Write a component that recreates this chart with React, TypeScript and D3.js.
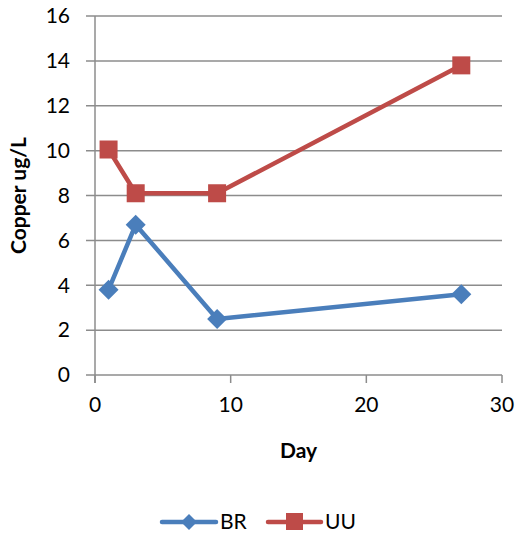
import React from "react";
import * as d3 from "d3";

const days = [1, 3, 9, 27];
const brValues = [3.8, 6.7, 2.5, 3.6];
const uuValues = [10.05, 8.1, 8.1, 13.8];
const yTicks = [0, 2, 4, 6, 8, 10, 12, 14, 16];
const xTicks = [0, 10, 20, 30];

const W = 518, H = 541;
const left = 95, right = 502, top = 16, bottom = 375;
const FONT = "Lato, 'Open Sans', sans-serif";
const BLUE = "#4A7EBB";
const RED = "#BE4B48";
const GRID = "#8C8C8C";
const FS = 21;

export default function App() {
  const x = d3.scaleLinear().domain([0, 30]).range([left, right]);
  const y = d3.scaleLinear().domain([0, 16]).range([bottom, top]);
  const line = d3.line<number>().x((_, i) => x(days[i])).y((d) => y(d));
  const diamond = (cx: number, cy: number, r: number) =>
    `M${cx},${cy - r}L${cx + r},${cy}L${cx},${cy + r}L${cx - r},${cy}Z`;

  return (
    <svg width={W} height={H} style={{ position: "absolute", left: 0, top: 0, background: "#fff" }}>
      {yTicks.map((t) => (
        <g key={"y" + t}>
          <line x1={86} x2={right} y1={y(t)} y2={y(t)} stroke={GRID} strokeWidth={1.5} />
          <text x={70} y={y(t)} dy="0.35em" textAnchor="end" fontSize={FS} fontFamily={FONT} fill="#000">
            {t}
          </text>
        </g>
      ))}
      <line x1={left} x2={left} y1={top} y2={383} stroke={GRID} strokeWidth={1.5} />
      {xTicks.map((t) => (
        <g key={"x" + t}>
          <line x1={x(t)} x2={x(t)} y1={bottom} y2={383} stroke={GRID} strokeWidth={1.5} />
          <text x={x(t)} y={412} textAnchor="middle" fontSize={FS} fontFamily={FONT} fill="#000">
            {t}
          </text>
        </g>
      ))}
      <text
        transform={`translate(26,${(top + bottom) / 2}) rotate(-90)`}
        textAnchor="middle"
        fontSize={FS}
        fontWeight="bold"
        fontFamily={FONT}
        fill="#000"
      >
        Copper ug/L
      </text>
      <text x={(left + right) / 2} y={458} textAnchor="middle" fontSize={FS} fontWeight="bold" fontFamily={FONT} fill="#000">
        Day
      </text>

      <path d={line(brValues) || ""} fill="none" stroke={BLUE} strokeWidth={4.5} strokeLinejoin="round" />
      {brValues.map((v, i) => (
        <path key={"b" + i} d={diamond(x(days[i]), y(v), 10)} fill={BLUE} />
      ))}
      <path d={line(uuValues) || ""} fill="none" stroke={RED} strokeWidth={4.5} strokeLinejoin="round" />
      {uuValues.map((v, i) => (
        <rect key={"u" + i} x={x(days[i]) - 9} y={y(v) - 9} width={18} height={18} fill={RED} />
      ))}

      <line x1={162} x2={216} y1={522} y2={522} stroke={BLUE} strokeWidth={4.5} strokeLinecap="round" />
      <path d={diamond(189, 522, 8)} fill={BLUE} />
      <text x={220} y={522} dy="0.35em" fontSize={FS} fontFamily={FONT} fill="#000">BR</text>
      <line x1={268} x2={321} y1={522} y2={522} stroke={RED} strokeWidth={4.5} strokeLinecap="round" />
      <rect x={286} y={513} width={17} height={17} fill={RED} />
      <text x={325} y={522} dy="0.35em" fontSize={FS} fontFamily={FONT} fill="#000">UU</text>
    </svg>
  );
}
